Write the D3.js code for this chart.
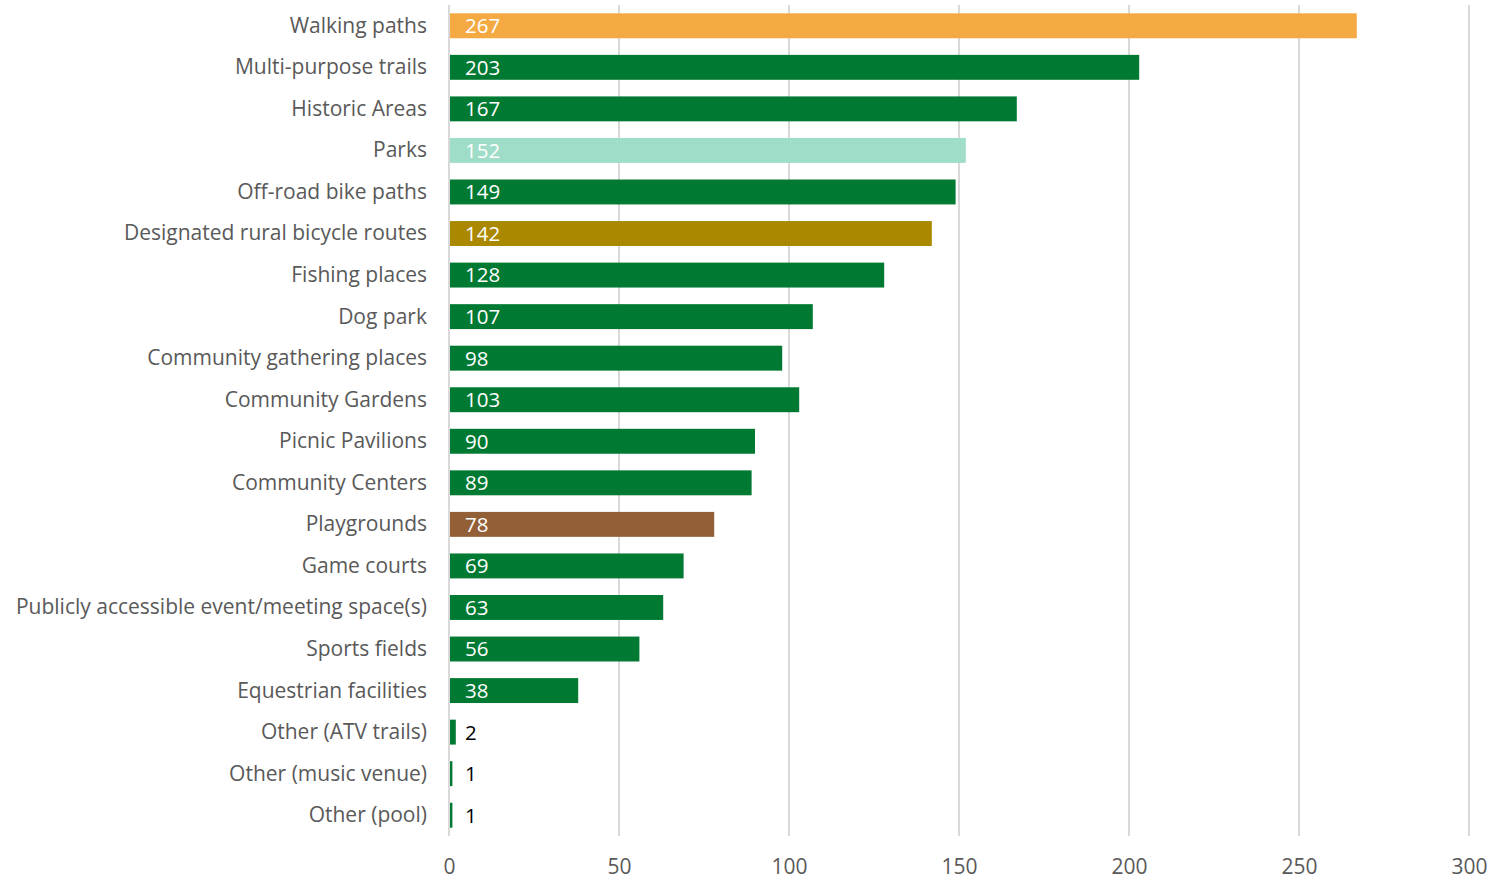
<!DOCTYPE html>
<html><head><meta charset="utf-8">
<script src="https://cdn.jsdelivr.net/npm/d3@7"></script>
<style>body{margin:0;background:#fff}svg{display:block}</style>
</head><body>
<script>
const categories = ["Walking paths","Multi-purpose trails","Historic Areas","Parks","Off-road bike paths","Designated rural bicycle routes","Fishing places","Dog park","Community gathering places","Community Gardens","Picnic Pavilions","Community Centers","Playgrounds","Game courts","Publicly accessible event/meeting space(s)","Sports fields","Equestrian facilities","Other (ATV trails)","Other (music venue)","Other (pool)"];
const values = [267,203,167,152,149,142,128,107,98,103,90,89,78,69,63,56,38,2,1,1];
const barColors = ["#F5A942","#007A33","#007A33","#A0DDC8","#007A33","#AA8800","#007A33","#007A33","#007A33","#007A33","#007A33","#007A33","#935F37","#007A33","#007A33","#007A33","#007A33","#007A33","#007A33","#007A33"];
const xTicks = [0,50,100,150,200,250,300];

const W=1491,H=882;
const m={left:449,right:22,top:5,bottom:46};
const font="'Open Sans', sans-serif";
const svg=d3.select("body").append("svg").attr("width",W).attr("height",H);
const x=d3.scaleLinear().domain([0,300]).range([m.left,W-m.right]);
const y=d3.scaleBand().domain(categories).range([m.top,H-m.bottom]).paddingInner(0.4).paddingOuter(0.2);

svg.append("g").selectAll("line").data(xTicks).join("line")
 .attr("x1",d=>x(d)).attr("x2",d=>x(d)).attr("y1",m.top).attr("y2",H-m.bottom)
 .attr("stroke","#D9D9D9").attr("stroke-width",2);

svg.append("g").selectAll("rect").data(values).join("rect")
 .attr("x",x(0)+1).attr("y",(d,i)=>y(categories[i]))
 .attr("width",d=>x(d)-x(0)-1).attr("height",y.bandwidth())
 .attr("fill",(d,i)=>barColors[i]);

svg.append("g").selectAll("text").data(values).join("text")
 .attr("x",x(0)+16).attr("y",(d,i)=>y(categories[i])+y.bandwidth()/2)
 .attr("dy","0.36em").attr("font-family",font).attr("font-size",20.5)
 .attr("fill",d=>d<10?"#000":"#fff").text(d=>d);

svg.append("g").selectAll("text").data(categories).join("text")
 .attr("x",427).attr("y",d=>y(d)+y.bandwidth()/2).attr("dy","0.33em")
 .attr("text-anchor","end").attr("font-family",font).attr("font-size",21)
 .attr("fill","#595959").text(d=>d);

const ax=svg.append("g").attr("transform",`translate(0,${H-m.bottom})`)
 .call(d3.axisBottom(x).tickValues(xTicks).tickSize(0).tickPadding(23));
ax.select(".domain").remove();
ax.selectAll("text").attr("font-family",font).attr("font-size",21).attr("fill","#595959");
</script>
</body></html>
